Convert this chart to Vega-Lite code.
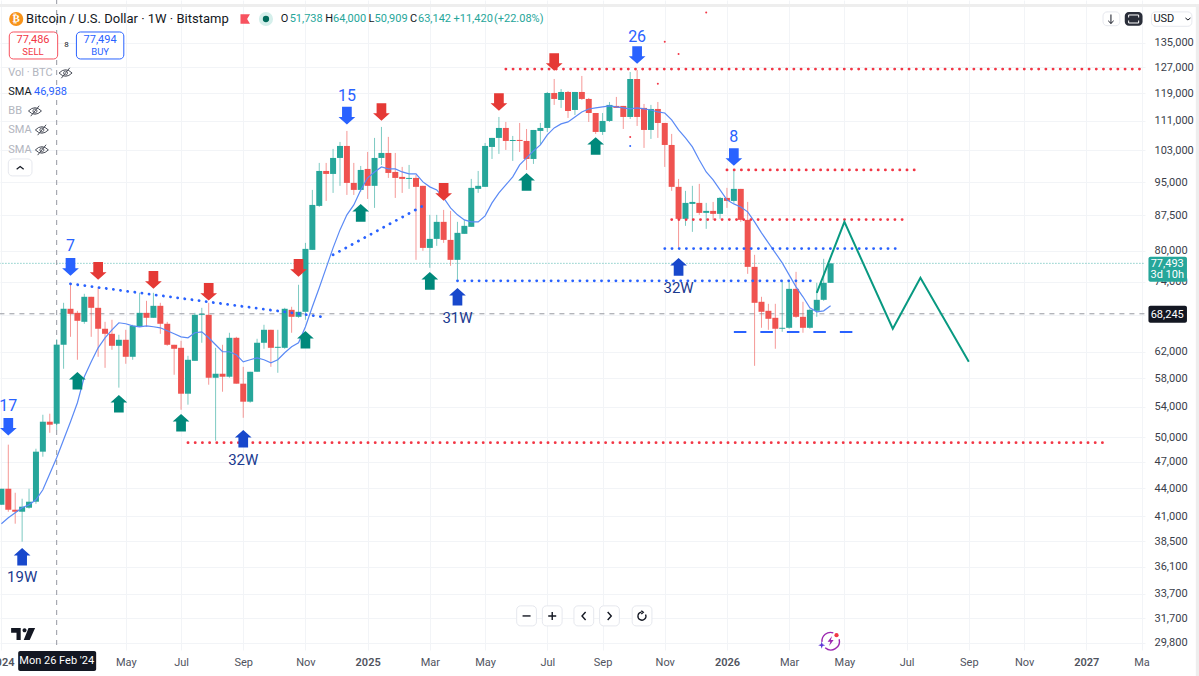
{
  "$schema": "https://vega.github.io/schema/vega-lite/v6.json",
  "width": 1145,
  "height": 650,
  "padding": {"left": 0, "top": 0, "right": 54, "bottom": 26},
  "autosize": "none",
  "background": "#ffffff",
  "config": {"view": {"stroke": null}, "text": {"font": "Roboto"}, "axis": {"labelFont": "Roboto"}},
  "datasets": {
    "candles": [
      {"date":"2024-01-01","open":42190,"high":43920,"low":42190,"close":43920,"sma":40220},
      {"date":"2024-01-08","open":43920,"high":49080,"low":41450,"close":41660,"sma":40830},
      {"date":"2024-01-15","open":41660,"high":43480,"low":40220,"close":41450,"sma":41350},
      {"date":"2024-01-22","open":41450,"high":42830,"low":38440,"close":41980,"sma":41870},
      {"date":"2024-01-29","open":41870,"high":43920,"low":41770,"close":42510,"sma":42190},
      {"date":"2024-02-05","open":42510,"high":48580,"low":42290,"close":48220,"sma":42720},
      {"date":"2024-02-12","open":48220,"high":52920,"low":47610,"close":52000,"sma":43810},
      {"date":"2024-02-19","open":52000,"high":53060,"low":50570,"close":51610,"sma":45620},
      {"date":"2024-02-26","open":51738,"high":64000,"low":50909,"close":63142,"sma":47490},
      {"date":"2024-03-04","open":63120,"high":70160,"low":59420,"close":69110,"sma":49690},
      {"date":"2024-03-11","open":69110,"high":73780,"low":64400,"close":68240,"sma":52000},
      {"date":"2024-03-18","open":68410,"high":68760,"low":60780,"close":67050,"sma":54550},
      {"date":"2024-03-25","open":66880,"high":71770,"low":66550,"close":71230,"sma":58240},
      {"date":"2024-04-01","open":71230,"high":71230,"low":64400,"close":69280,"sma":60470},
      {"date":"2024-04-08","open":69280,"high":72860,"low":61240,"close":65720,"sma":62640},
      {"date":"2024-04-15","open":65720,"high":66880,"low":59560,"close":64890,"sma":64240},
      {"date":"2024-04-22","open":64890,"high":67220,"low":62330,"close":62960,"sma":65550},
      {"date":"2024-04-29","open":62960,"high":64730,"low":56660,"close":63920,"sma":66720},
      {"date":"2024-05-06","open":63920,"high":65550,"low":60170,"close":61240,"sma":66550},
      {"date":"2024-05-13","open":61240,"high":66380,"low":60780,"close":66210,"sma":66210},
      {"date":"2024-05-20","open":66050,"high":71950,"low":66050,"close":68410,"sma":66050},
      {"date":"2024-05-27","open":68410,"high":70510,"low":66050,"close":67560,"sma":66210},
      {"date":"2024-06-03","open":67560,"high":71950,"low":67560,"close":69630,"sma":66050},
      {"date":"2024-06-10","open":69630,"high":70160,"low":64890,"close":66550,"sma":65880},
      {"date":"2024-06-17","open":66550,"high":66880,"low":62960,"close":63120,"sma":65390},
      {"date":"2024-06-24","open":63120,"high":63120,"low":58530,"close":62490,"sma":64890},
      {"date":"2024-07-01","open":62640,"high":63760,"low":53590,"close":55800,"sma":64400},
      {"date":"2024-07-08","open":55800,"high":61390,"low":54280,"close":60780,"sma":64240},
      {"date":"2024-07-15","open":60620,"high":68410,"low":60620,"close":68070,"sma":65060},
      {"date":"2024-07-22","open":68070,"high":69280,"low":63440,"close":68240,"sma":65220},
      {"date":"2024-07-29","open":68070,"high":70160,"low":57080,"close":58090,"sma":64240},
      {"date":"2024-08-05","open":58090,"high":62640,"low":49570,"close":58680,"sma":63120},
      {"date":"2024-08-12","open":58680,"high":63120,"low":56080,"close":58240,"sma":62020},
      {"date":"2024-08-19","open":58240,"high":65060,"low":58090,"close":64240,"sma":62020},
      {"date":"2024-08-26","open":64240,"high":64400,"low":57230,"close":57230,"sma":61550},
      {"date":"2024-09-02","open":57230,"high":59710,"low":52520,"close":54690,"sma":60470},
      {"date":"2024-09-09","open":54690,"high":58970,"low":54550,"close":58970,"sma":60780},
      {"date":"2024-09-16","open":58970,"high":64080,"low":58970,"close":63440,"sma":61080},
      {"date":"2024-09-23","open":63440,"high":66380,"low":62490,"close":65550,"sma":60780},
      {"date":"2024-09-30","open":65550,"high":65550,"low":59710,"close":62640,"sma":60320},
      {"date":"2024-10-07","open":62640,"high":65550,"low":58820,"close":62800,"sma":60780},
      {"date":"2024-10-14","open":62640,"high":69280,"low":62490,"close":69110,"sma":61860},
      {"date":"2024-10-21","open":68930,"high":69460,"low":65060,"close":67730,"sma":62800},
      {"date":"2024-10-28","open":67730,"high":73420,"low":67560,"close":68590,"sma":63440},
      {"date":"2024-11-04","open":68590,"high":81590,"low":67220,"close":80370,"sma":66050},
      {"date":"2024-11-11","open":80170,"high":93240,"low":80170,"close":89780,"sma":69460},
      {"date":"2024-11-18","open":89560,"high":99800,"low":89330,"close":97800,"sma":72860},
      {"date":"2024-11-25","open":97800,"high":99800,"low":90690,"close":97070,"sma":76620},
      {"date":"2024-12-02","open":97070,"high":103380,"low":92540,"close":101060,"sma":80570},
      {"date":"2024-12-09","open":101060,"high":105220,"low":94200,"close":104160,"sma":84310},
      {"date":"2024-12-16","open":104160,"high":108170,"low":92070,"close":94900,"sma":87560},
      {"date":"2024-12-23","open":94900,"high":99800,"low":92070,"close":93240,"sma":89780},
      {"date":"2024-12-30","open":93240,"high":99040,"low":92780,"close":98050,"sma":93240},
      {"date":"2025-01-06","open":98300,"high":102600,"low":91150,"close":94200,"sma":96100},
      {"date":"2025-01-13","open":94200,"high":106290,"low":89110,"close":101060,"sma":97560},
      {"date":"2025-01-20","open":101060,"high":109270,"low":99290,"close":102340,"sma":98800},
      {"date":"2025-01-27","open":102340,"high":106560,"low":96100,"close":97310,"sma":98300},
      {"date":"2025-02-03","open":97560,"high":102340,"low":91380,"close":96100,"sma":98300},
      {"date":"2025-02-10","open":96350,"high":98800,"low":92540,"close":95860,"sma":97560},
      {"date":"2025-02-17","open":95860,"high":99290,"low":93480,"close":96100,"sma":97070},
      {"date":"2025-02-24","open":96100,"high":96830,"low":78180,"close":93960,"sma":97070},
      {"date":"2025-03-03","open":94200,"high":94200,"low":79970,"close":80570,"sma":95140},
      {"date":"2025-03-10","open":80570,"high":87560,"low":76620,"close":82420,"sma":93960},
      {"date":"2025-03-17","open":82420,"high":87560,"low":80980,"close":86030,"sma":93240},
      {"date":"2025-03-24","open":86030,"high":88660,"low":81590,"close":82210,"sma":91380},
      {"date":"2025-03-31","open":82210,"high":88440,"low":77010,"close":78180,"sma":89110},
      {"date":"2025-04-07","open":78180,"high":86030,"low":74340,"close":83680,"sma":87560},
      {"date":"2025-04-14","open":83470,"high":86460,"low":83470,"close":85170,"sma":86460},
      {"date":"2025-04-21","open":84960,"high":95860,"low":84960,"close":93720,"sma":86030},
      {"date":"2025-04-28","open":93480,"high":97800,"low":92540,"close":94200,"sma":86030},
      {"date":"2025-05-05","open":93960,"high":104950,"low":93960,"close":104160,"sma":87340},
      {"date":"2025-05-12","open":103900,"high":106290,"low":100800,"close":106290,"sma":90240},
      {"date":"2025-05-19","open":106290,"high":112050,"low":102090,"close":108990,"sma":92540},
      {"date":"2025-05-26","open":108990,"high":110650,"low":103120,"close":105480,"sma":94430},
      {"date":"2025-06-02","open":105480,"high":106820,"low":100300,"close":105750,"sma":96350},
      {"date":"2025-06-09","open":105750,"high":110370,"low":102600,"close":105480,"sma":99290},
      {"date":"2025-06-16","open":105480,"high":108710,"low":98050,"close":100800,"sma":101060},
      {"date":"2025-06-23","open":100800,"high":108440,"low":99550,"close":108440,"sma":102860},
      {"date":"2025-06-30","open":108170,"high":110370,"low":104420,"close":108990,"sma":104420},
      {"date":"2025-07-07","open":108990,"high":119330,"low":107900,"close":119030,"sma":107090},
      {"date":"2025-07-14","open":119030,"high":123300,"low":115500,"close":117250,"sma":108990},
      {"date":"2025-07-21","open":116950,"high":120230,"low":114630,"close":119330,"sma":110100},
      {"date":"2025-07-28","open":119330,"high":119630,"low":111770,"close":113750,"sma":110650},
      {"date":"2025-08-04","open":114040,"high":119330,"low":112620,"close":119330,"sma":112050},
      {"date":"2025-08-11","open":119330,"high":124240,"low":116950,"close":117250,"sma":113470},
      {"date":"2025-08-18","open":117250,"high":117550,"low":110650,"close":113180,"sma":114330},
      {"date":"2025-08-25","open":113180,"high":113180,"low":107360,"close":107900,"sma":114630},
      {"date":"2025-09-01","open":107900,"high":113180,"low":107090,"close":110930,"sma":114920},
      {"date":"2025-09-08","open":110930,"high":116360,"low":110650,"close":115500,"sma":115210},
      {"date":"2025-09-15","open":115210,"high":117850,"low":114630,"close":114630,"sma":114920},
      {"date":"2025-09-22","open":115210,"high":115210,"low":108710,"close":112050,"sma":114630},
      {"date":"2025-09-29","open":112050,"high":125490,"low":111490,"close":123300,"sma":114330},
      {"date":"2025-10-06","open":123300,"high":126130,"low":109540,"close":112050,"sma":114630},
      {"date":"2025-10-13","open":114630,"high":115780,"low":103640,"close":108440,"sma":114330},
      {"date":"2025-10-20","open":108440,"high":115500,"low":106020,"close":114330,"sma":114040},
      {"date":"2025-10-27","open":114330,"high":116360,"low":106290,"close":110370,"sma":113470},
      {"date":"2025-11-03","open":110370,"high":110370,"low":98800,"close":104420,"sma":113180},
      {"date":"2025-11-10","open":104420,"high":107360,"low":93010,"close":93960,"sma":111210},
      {"date":"2025-11-17","open":93960,"high":95860,"low":80570,"close":86680,"sma":108440},
      {"date":"2025-11-24","open":86680,"high":93010,"low":85170,"close":90240,"sma":106290},
      {"date":"2025-12-01","open":90010,"high":94200,"low":83890,"close":90460,"sma":103900},
      {"date":"2025-12-08","open":90240,"high":94670,"low":87560,"close":88000,"sma":100550},
      {"date":"2025-12-15","open":88000,"high":90240,"low":84530,"close":88440,"sma":97560},
      {"date":"2025-12-22","open":88440,"high":90460,"low":86460,"close":87780,"sma":95620},
      {"date":"2025-12-29","open":87780,"high":91600,"low":86680,"close":91380,"sma":93240},
      {"date":"2026-01-05","open":91380,"high":93720,"low":89110,"close":90690,"sma":90920},
      {"date":"2026-01-12","open":90690,"high":98050,"low":90240,"close":93480,"sma":90010},
      {"date":"2026-01-19","open":93480,"high":93480,"low":86030,"close":86460,"sma":89330},
      {"date":"2026-01-26","open":86460,"high":90460,"low":75470,"close":76810,"sma":88220},
      {"date":"2026-02-02","open":76810,"high":79170,"low":59860,"close":70160,"sma":86030},
      {"date":"2026-02-09","open":70340,"high":71230,"low":65880,"close":68590,"sma":83680},
      {"date":"2026-02-16","open":68760,"high":69980,"low":65550,"close":67390,"sma":81590},
      {"date":"2026-02-23","open":67560,"high":69980,"low":62490,"close":65720,"sma":79570},
      {"date":"2026-03-02","open":65720,"high":74150,"low":65220,"close":65880,"sma":77590},
      {"date":"2026-03-09","open":65880,"high":74150,"low":65720,"close":72670,"sma":75280},
      {"date":"2026-03-16","open":72670,"high":75850,"low":67560,"close":67730,"sma":73040},
      {"date":"2026-03-23","open":67730,"high":70340,"low":65060,"close":65880,"sma":71230},
      {"date":"2026-03-30","open":65880,"high":69110,"low":65720,"close":68930,"sma":69280},
      {"date":"2026-04-06","open":68760,"high":73780,"low":67730,"close":70690,"sma":68590},
      {"date":"2026-04-13","open":70690,"high":78380,"low":70510,"close":73780,"sma":68760},
      {"date":"2026-04-20","open":73780,"high":77400,"low":73780,"close":77493,"sma":69630}
    ],
    "arrows": [
      {"date":"2024-01-08","price":51350,"kind":"count"},
      {"date":"2024-03-11","price":76810,"kind":"count"},
      {"date":"2024-12-16","price":112420,"kind":"count"},
      {"date":"2025-10-06","price":130980,"kind":"count"},
      {"date":"2026-01-12","price":101310,"kind":"count"},
      {"date":"2024-03-18","price":57660,"kind":"buy"},
      {"date":"2024-04-29","price":54410,"kind":"buy"},
      {"date":"2024-07-01","price":51870,"kind":"buy"},
      {"date":"2024-11-04","price":63920,"kind":"buy"},
      {"date":"2024-12-30","price":88000,"kind":"buy"},
      {"date":"2025-03-10","price":74150,"kind":"buy"},
      {"date":"2025-06-16","price":95140,"kind":"buy"},
      {"date":"2025-08-25","price":104160,"kind":"buy"},
      {"date":"2024-04-08","price":76040,"kind":"sell"},
      {"date":"2024-06-03","price":74340,"kind":"sell"},
      {"date":"2024-07-29","price":72130,"kind":"sell"},
      {"date":"2024-10-28","price":76620,"kind":"sell"},
      {"date":"2025-01-20","price":113470,"kind":"sell"},
      {"date":"2025-03-24","price":92780,"kind":"sell"},
      {"date":"2025-05-19","price":116360,"kind":"sell"},
      {"date":"2025-07-14","price":128690,"kind":"sell"},
      {"date":"2024-01-22","price":37010,"kind":"low"},
      {"date":"2024-09-02","price":49820,"kind":"low"},
      {"date":"2025-04-07","price":71230,"kind":"low"},
      {"date":"2025-11-17","price":76810,"kind":"low"}
    ],
    "redDotted": [
      {"id":"ath","date":"2025-05-26","price":126400},
      {"id":"ath","date":"2027-03-04","price":126400},
      {"id":"jan","date":"2026-01-05","price":98050},
      {"id":"jan","date":"2026-07-20","price":98050},
      {"id":"mid","date":"2025-11-10","price":86520},
      {"id":"mid","date":"2026-07-06","price":86520},
      {"id":"aug","date":"2024-07-08","price":49320},
      {"id":"aug","date":"2027-01-25","price":49320}
    ],
    "blueDotted": [
      {"id":"fall","date":"2024-03-11","price":73600},
      {"id":"fall","date":"2024-11-21","price":67730},
      {"id":"rise","date":"2024-12-02","price":79170},
      {"id":"rise","date":"2025-03-03","price":89560},
      {"id":"apr","date":"2025-04-07","price":74150},
      {"id":"apr","date":"2026-04-06","price":74150},
      {"id":"nov","date":"2025-11-03","price":80430},
      {"id":"nov","date":"2026-06-29","price":80430}
    ],
    "blueDashed": [
      {"date":"2026-01-12","price":65180},
      {"date":"2026-05-13","price":65180}
    ],
    "projection": [
      {"date":"2026-04-06","price":71950},
      {"date":"2026-05-04","price":86030},
      {"date":"2026-06-22","price":65720},
      {"date":"2026-07-20","price":74710},
      {"date":"2026-09-07","price":60470}
    ],
    "specks": [
      {"date":"2025-12-15","price":145800,"kind":"red"},
      {"date":"2025-11-03","price":135440,"kind":"red"},
      {"date":"2025-11-17","price":131320,"kind":"red"},
      {"date":"2025-10-27","price":121790,"kind":"red"},
      {"date":"2025-09-29","price":106560,"kind":"red"},
      {"date":"2025-09-29","price":104160,"kind":"blue"}
    ],
    "levels": [
      {"kind":"last","date":"2023-12-30","date2":"2027-03-04","price":77493,"price2":77493},
      {"kind":"prev","date":"2023-12-30","date2":"2027-03-04","price":68245,"price2":68245},
      {"kind":"cross","date":"2024-02-26","date2":"2024-02-26","price":150440,"price2":29259}
    ],
    "panels": [
      {"kind":"edge","date":"2023-12-30","date2":"2027-05-10","price":148920,"price2":147800},
      {"kind":"edge","date":"2023-12-30","date2":"2027-05-10","price":27400,"price2":27100},
      {"kind":"edge","date":"2027-04-25","date2":"2027-05-10","price":148920,"price2":27100},
      {"kind":"dark","date":"2024-01-18","date2":"2024-04-06","price":29180,"price2":27760},
      {"kind":"dark","date":"2027-03-08","date2":"2027-04-16","price":69630,"price2":66720},
      {"kind":"teal","date":"2027-03-08","date2":"2027-04-16","price":78770,"price2":73960},
      {"kind":"button","date":"2027-02-12","date2":"2027-03-02","price":146000,"price2":141000},
      {"kind":"plain","date":"2027-01-21","date2":"2027-02-07","price":146000,"price2":141000},
      {"kind":"plain","date":"2027-03-11","date2":"2027-04-21","price":146000,"price2":140800},
      {"kind":"plain","date":"2024-01-08","date2":"2024-02-01","price":100800,"price2":96590},
      {"kind":"plain","date":"2025-06-06","date2":"2025-06-26","price":32700,"price2":31090},
      {"kind":"plain","date":"2025-07-02","date2":"2025-07-22","price":32700,"price2":31090},
      {"kind":"plain","date":"2025-08-03","date2":"2025-08-23","price":32700,"price2":31090},
      {"kind":"plain","date":"2025-08-29","date2":"2025-09-18","price":32700,"price2":31090},
      {"kind":"plain","date":"2025-10-01","date2":"2025-10-21","price":32700,"price2":31090},
      {"kind":"sellBox","date":"2024-01-09","date2":"2024-02-27","price":138790,"price2":129670},
      {"kind":"buyBox","date":"2024-03-17","date2":"2024-05-04","price":138790,"price2":129670}
    ],
    "glyphs": [
      {"kind":"coin","date":"2024-01-16","price":143410},
      {"kind":"flag","date":"2024-09-04","price":143410},
      {"kind":"haloOuter","date":"2024-09-25","price":143410},
      {"kind":"haloInner","date":"2024-09-25","price":143410},
      {"kind":"eye","date":"2024-03-06","price":125170},
      {"kind":"eye","date":"2024-02-04","price":113750},
      {"kind":"eye","date":"2024-02-11","price":108440},
      {"kind":"eye","date":"2024-02-11","price":103120},
      {"kind":"up","date":"2024-01-20","price":98550},
      {"kind":"down","date":"2027-04-17","price":143410},
      {"kind":"sink","date":"2027-01-29","price":143410},
      {"kind":"frame","date":"2027-02-21","price":143410},
      {"kind":"minus","date":"2025-06-16","price":31880},
      {"kind":"plus","date":"2025-07-12","price":31880},
      {"kind":"left","date":"2025-08-13","price":31880},
      {"kind":"right","date":"2025-09-08","price":31880},
      {"kind":"reset","date":"2025-10-11","price":31880},
      {"kind":"logo","date":"2024-01-23","price":30470},
      {"kind":"ring","date":"2026-04-20","price":29930},
      {"kind":"bolt","date":"2026-04-20","price":29930},
      {"kind":"star","date":"2026-04-11","price":29620},
      {"kind":"notify","date":"2026-04-26","price":30370}
    ],
    "texts": [
      {"group":"count","date":"2024-01-08","price":54140,"label":"17"},
      {"group":"count","date":"2024-03-11","price":80980,"label":"7"},
      {"group":"count","date":"2024-12-16","price":118140,"label":"15"},
      {"group":"count","date":"2025-10-06","price":136980,"label":"26"},
      {"group":"count","date":"2026-01-12","price":106560,"label":"8"},
      {"group":"weeks","date":"2024-01-22","price":35190,"label":"19W"},
      {"group":"weeks","date":"2024-09-02","price":47250,"label":"32W"},
      {"group":"weeks","date":"2025-04-07","price":67560,"label":"31W"},
      {"group":"weeks","date":"2025-11-17","price":72860,"label":"32W"},
      {"group":"title","date":"2024-01-26","price":143410,"label":"Bitcoin / U.S. Dollar · 1W · Bitstamp"},
      {"group":"key","date":"2024-10-10","price":143410,"label":"O"},
      {"group":"key","date":"2024-11-24","price":143410,"label":"H"},
      {"group":"key","date":"2025-01-07","price":143410,"label":"L"},
      {"group":"key","date":"2025-02-18","price":143410,"label":"C"},
      {"group":"value","date":"2024-10-19","price":143410,"label":"51,738"},
      {"group":"value","date":"2024-12-02","price":143410,"label":"64,000"},
      {"group":"value","date":"2025-01-13","price":143410,"label":"50,909"},
      {"group":"value","date":"2025-02-26","price":143410,"label":"63,142"},
      {"group":"value","date":"2025-04-03","price":143410,"label":"+11,420"},
      {"group":"value","date":"2025-05-14","price":143410,"label":"(+22.08%)"},
      {"group":"sell","date":"2024-02-02","price":136020,"label":"77,486"},
      {"group":"sellTag","date":"2024-02-02","price":131970,"label":"SELL"},
      {"group":"buy","date":"2024-04-10","price":136020,"label":"77,494"},
      {"group":"buyTag","date":"2024-04-10","price":131970,"label":"BUY"},
      {"group":"spread","date":"2024-03-07","price":134320,"label":"8"},
      {"group":"faint","date":"2024-01-08","price":125170,"label":"Vol · BTC"},
      {"group":"faint","date":"2024-01-08","price":113750,"label":"BB"},
      {"group":"faint","date":"2024-01-08","price":108440,"label":"SMA"},
      {"group":"faint","date":"2024-01-08","price":103120,"label":"SMA"},
      {"group":"plainDark","date":"2024-01-08","price":119330,"label":"SMA"},
      {"group":"plainDark","date":"2027-03-13","price":143410,"label":"USD"},
      {"group":"smaValue","date":"2024-02-03","price":119330,"label":"46,938"},
      {"group":"badge","date":"2027-03-27","price":77400,"label":"77,493"},
      {"group":"badge","date":"2027-03-27","price":75280,"label":"3d 10h"},
      {"group":"badge","date":"2027-03-27","price":68070,"label":"68,245"},
      {"group":"badge","date":"2024-02-26","price":28460,"label":"Mon 26 Feb '24"},
      {"group":"coin","date":"2024-01-16","price":143410,"label":"₿"}
    ]
  },
  "encoding": {
    "x": {
      "field": "date",
      "type": "temporal",
      "scale": {"type": "utc", "padding": 0, "domain": ["2023-12-30T14:00:00Z", "2027-03-04T12:00:00Z"]},
      "axis": {
        "title": null,
        "values": ["2024-01-01","2024-05-06","2024-07-01","2024-09-02","2024-11-04","2025-01-06","2025-03-10","2025-05-05","2025-07-07","2025-09-01","2025-11-03","2026-01-05","2026-03-09","2026-05-04","2026-07-06","2026-09-07","2026-11-02","2027-01-04","2027-03-01"],
        "labelExpr": "utcmonth(datum.value)==0 ? utcFormat(datum.value,'%Y') : (utcyear(datum.value)==2027 ? 'Ma' : utcFormat(datum.value,'%b'))",
        "labelFontWeight": {"condition": {"test": "utcmonth(datum.value)==0", "value": 600}, "value": 400},
        "labelFontSize": 11,
        "labelColor": "#50535e",
        "labelPadding": 6,
        "labelOverlap": false,
        "labelBound": false,
        "ticks": false,
        "domain": false,
        "grid": true,
        "gridColor": "#f2f4f7"
      }
    },
    "y": {
      "field": "price",
      "type": "quantitative",
      "scale": {"type": "log", "domain": [29259, 150440]},
      "axis": {
        "title": null,
        "orient": "right",
        "values": [135000,127000,119000,111000,103000,95000,87500,80000,74000,68000,62000,58000,54000,50000,47000,44000,41000,38500,36100,33700,31700,29800],
        "labelExpr": "datum.value==68000 ? '' : format(datum.value,',')",
        "labelFontSize": 11,
        "labelColor": "#3a3e4a",
        "labelPadding": 9,
        "labelAlign": "left",
        "labelOverlap": false,
        "labelBound": false,
        "ticks": false,
        "domain": false,
        "grid": true,
        "gridColor": "#f2f4f7"
      }
    }
  },
  "layer": [
    {
      "data": {"name": "levels"},
      "transform": [{"filter": "datum.kind=='last'"}],
      "mark": {"type": "rule", "color": "#26a69a", "strokeWidth": 1, "strokeDash": [1, 2], "opacity": 0.8},
      "encoding": {"x2": {"field": "date2"}}
    },
    {
      "data": {"name": "levels"},
      "transform": [{"filter": "datum.kind!='last'"}],
      "mark": {"type": "rule", "color": "#9598a1", "strokeWidth": 1, "strokeDash": [5, 5]},
      "encoding": {"x2": {"field": "date2"}, "y2": {"field": "price2"}}
    },
    {
      "data": {"name": "candles"},
      "mark": {"type": "rule", "strokeWidth": 1, "opacity": 0.6},
      "encoding": {
        "y": {"field": "high", "type": "quantitative", "scale": {"type": "log", "domain": [29259, 150440]}},
        "y2": {"field": "low"},
        "color": {"condition": {"test": "datum.close>=datum.open", "value": "#26a69a"}, "value": "#ef5350"}
      }
    },
    {
      "data": {"name": "candles"},
      "mark": {"type": "bar", "size": 6, "orient": "vertical"},
      "encoding": {
        "y": {"field": "open", "type": "quantitative", "scale": {"type": "log", "domain": [29259, 150440]}},
        "y2": {"field": "close"},
        "color": {"condition": {"test": "datum.close>=datum.open", "value": "#26a69a"}, "value": "#ef5350"}
      }
    },
    {
      "data": {"name": "candles"},
      "mark": {"type": "line", "color": "#5b8af5", "strokeWidth": 1.2},
      "encoding": {
        "y": {"field": "sma", "type": "quantitative", "scale": {"type": "log", "domain": [29259, 150440]}}
      }
    },
    {
      "data": {"name": "redDotted"},
      "mark": {"type": "line", "color": "#f23645", "strokeWidth": 2.8, "strokeCap": "round", "strokeDash": [0.1, 7.1]},
      "encoding": {"detail": {"field": "id"}}
    },
    {
      "data": {"name": "blueDotted"},
      "mark": {"type": "line", "color": "#2962ff", "strokeWidth": 2.8, "strokeCap": "round", "strokeDash": [0.1, 7.1]},
      "encoding": {"detail": {"field": "id"}}
    },
    {
      "data": {"name": "blueDashed"},
      "mark": {"type": "line", "color": "#2962ff", "strokeWidth": 2, "strokeDash": [12.5, 14]}
    },
    {
      "data": {"name": "projection"},
      "mark": {"type": "line", "color": "#089981", "strokeWidth": 2}
    },
    {
      "data": {"name": "specks"},
      "transform": [{"filter": "datum.kind=='red'"}],
      "mark": {"type": "point", "shape": "circle", "filled": true, "size": 4, "color": "#f23645", "opacity": 1}
    },
    {
      "data": {"name": "specks"},
      "transform": [{"filter": "datum.kind=='blue'"}],
      "mark": {"type": "point", "shape": "circle", "filled": true, "size": 4, "color": "#2962ff", "opacity": 1}
    },
    {
      "data": {"name": "arrows"},
      "mark": {"type": "point", "filled": true, "size": 310, "opacity": 1},
      "encoding": {
        "color": {"field": "kind", "type": "nominal", "legend": null, "scale": {"domain": ["count", "sell", "buy", "low"], "range": ["#2962ff", "#e53935", "#00897b", "#1848cc"]}},
        "shape": {"field": "kind", "type": "nominal", "legend": null, "scale": {"domain": ["count", "sell", "buy", "low"], "range": [
          "M-0.55,-1L0.55,-1L0.55,0.15L0.95,0.15L0,1L-0.95,0.15L-0.55,0.15Z",
          "M-0.55,-1L0.55,-1L0.55,0.15L0.95,0.15L0,1L-0.95,0.15L-0.55,0.15Z",
          "M-0.55,1L0.55,1L0.55,-0.15L0.95,-0.15L0,-1L-0.95,-0.15L-0.55,-0.15Z",
          "M-0.55,1L0.55,1L0.55,-0.15L0.95,-0.15L0,-1L-0.95,-0.15L-0.55,-0.15Z"
        ]}}
      }
    },
    {
      "data": {"name": "panels"},
      "transform": [{"filter": "datum.kind=='edge'"}],
      "mark": {"type": "rect", "color": "#eeeeee"},
      "encoding": {"x2": {"field": "date2"}, "y2": {"field": "price2"}}
    },
    {
      "data": {"name": "panels"},
      "transform": [{"filter": "datum.kind=='dark'"}],
      "mark": {"type": "rect", "color": "#131722", "cornerRadius": 2},
      "encoding": {"x2": {"field": "date2"}, "y2": {"field": "price2"}}
    },
    {
      "data": {"name": "panels"},
      "transform": [{"filter": "datum.kind=='teal'"}],
      "mark": {"type": "rect", "color": "#26a69a", "cornerRadius": 2},
      "encoding": {"x2": {"field": "date2"}, "y2": {"field": "price2"}}
    },
    {
      "data": {"name": "panels"},
      "transform": [{"filter": "datum.kind=='button'"}],
      "mark": {"type": "rect", "color": "#2a2e39", "cornerRadius": 4},
      "encoding": {"x2": {"field": "date2"}, "y2": {"field": "price2"}}
    },
    {
      "data": {"name": "panels"},
      "transform": [{"filter": "datum.kind=='plain'"}],
      "mark": {"type": "rect", "fill": "#ffffff", "stroke": "#e6e8ee", "strokeWidth": 1, "cornerRadius": 4},
      "encoding": {"x2": {"field": "date2"}, "y2": {"field": "price2"}}
    },
    {
      "data": {"name": "panels"},
      "transform": [{"filter": "datum.kind=='sellBox'"}],
      "mark": {"type": "rect", "fill": "#ffffff", "stroke": "#f7525f", "strokeWidth": 1, "cornerRadius": 4},
      "encoding": {"x2": {"field": "date2"}, "y2": {"field": "price2"}}
    },
    {
      "data": {"name": "panels"},
      "transform": [{"filter": "datum.kind=='buyBox'"}],
      "mark": {"type": "rect", "fill": "#ffffff", "stroke": "#2962ff", "strokeWidth": 1, "cornerRadius": 4},
      "encoding": {"x2": {"field": "date2"}, "y2": {"field": "price2"}}
    },
    {
      "data": {"name": "glyphs"},
      "transform": [{"filter": "datum.kind=='coin'"}],
      "mark": {"type": "point", "shape": "circle", "filled": true, "size": 200, "color": "#f7931a", "opacity": 1}
    },
    {
      "data": {"name": "glyphs"},
      "transform": [{"filter": "datum.kind=='flag'"}],
      "mark": {"type": "point", "filled": true, "size": 90, "color": "#f7525f", "opacity": 1, "shape": "M-1,-1L1,-1L0.4,0L1,1L-1,1Z"}
    },
    {
      "data": {"name": "glyphs"},
      "transform": [{"filter": "datum.kind=='haloOuter'"}],
      "mark": {"type": "point", "shape": "circle", "filled": true, "size": 200, "color": "#d5efeb", "opacity": 1}
    },
    {
      "data": {"name": "glyphs"},
      "transform": [{"filter": "datum.kind=='haloInner'"}],
      "mark": {"type": "point", "shape": "circle", "filled": true, "size": 40, "color": "#006b5b", "opacity": 1}
    },
    {
      "data": {"name": "glyphs"},
      "transform": [{"filter": "datum.kind=='eye'"}],
      "mark": {"type": "point", "filled": false, "size": 169, "stroke": "#4a4e59", "strokeWidth": 1, "opacity": 1, "shape": "M-1,0Q0,-1 1,0Q0,1 -1,0ZM-0.3,0A0.3,0.3 0 1 0 0.3,0A0.3,0.3 0 1 0 -0.3,0ZM-0.65,0.8L0.65,-0.8"}
    },
    {
      "data": {"name": "glyphs"},
      "transform": [{"filter": "datum.kind=='up'"}],
      "mark": {"type": "point", "filled": false, "size": 49, "stroke": "#131722", "strokeWidth": 1.2, "opacity": 1, "shape": "M-1,0.4L0,-0.4L1,0.4"}
    },
    {
      "data": {"name": "glyphs"},
      "transform": [{"filter": "datum.kind=='down'"}],
      "mark": {"type": "point", "filled": false, "size": 25, "stroke": "#131722", "strokeWidth": 1, "opacity": 1, "shape": "M-1,-0.4L0,0.4L1,-0.4"}
    },
    {
      "data": {"name": "glyphs"},
      "transform": [{"filter": "datum.kind=='sink'"}],
      "mark": {"type": "point", "filled": false, "size": 81, "stroke": "#131722", "strokeWidth": 1, "opacity": 1, "shape": "M0,-1L0,1M-0.6,0.4L0,1L0.6,0.4"}
    },
    {
      "data": {"name": "glyphs"},
      "transform": [{"filter": "datum.kind=='frame'"}],
      "mark": {"type": "point", "filled": false, "size": 100, "stroke": "#ffffff", "strokeWidth": 1, "opacity": 1, "shape": "M-1,-0.3L-1,-0.8L1,-0.8L1,-0.3M-1,0.3L-1,0.8L1,0.8L1,0.3"}
    },
    {
      "data": {"name": "glyphs"},
      "transform": [{"filter": "datum.kind=='minus'"}],
      "mark": {"type": "point", "filled": false, "size": 64, "stroke": "#131722", "strokeWidth": 1.4, "opacity": 1, "shape": "M-1,0L1,0"}
    },
    {
      "data": {"name": "glyphs"},
      "transform": [{"filter": "datum.kind=='plus'"}],
      "mark": {"type": "point", "filled": false, "size": 64, "stroke": "#131722", "strokeWidth": 1.4, "opacity": 1, "shape": "M-1,0L1,0M0,-1L0,1"}
    },
    {
      "data": {"name": "glyphs"},
      "transform": [{"filter": "datum.kind=='left'"}],
      "mark": {"type": "point", "filled": false, "size": 64, "stroke": "#131722", "strokeWidth": 1.4, "opacity": 1, "shape": "M0.45,-1L-0.45,0L0.45,1"}
    },
    {
      "data": {"name": "glyphs"},
      "transform": [{"filter": "datum.kind=='right'"}],
      "mark": {"type": "point", "filled": false, "size": 64, "stroke": "#131722", "strokeWidth": 1.4, "opacity": 1, "shape": "M-0.45,-1L0.45,0L-0.45,1"}
    },
    {
      "data": {"name": "glyphs"},
      "transform": [{"filter": "datum.kind=='reset'"}],
      "mark": {"type": "point", "filled": false, "size": 100, "stroke": "#131722", "strokeWidth": 1.3, "opacity": 1, "shape": "M-0.15,-0.75A0.8,0.8 0 1 0 0.7,-0.3M-0.15,-1.05L0.25,-0.75L-0.15,-0.4"}
    },
    {
      "data": {"name": "glyphs"},
      "transform": [{"filter": "datum.kind=='logo'"}],
      "mark": {"type": "point", "filled": true, "size": 576, "color": "#131722", "opacity": 1, "shape": "M-1,-0.5L-0.2,-0.5L-0.2,0.5L-0.55,0.5L-0.55,-0.1L-1,-0.1ZM-0.05,-0.3A0.17,0.17 0 1 0 0.29,-0.3A0.17,0.17 0 1 0 -0.05,-0.3ZM0.45,-0.5L1,-0.5L0.55,0.5L0.05,0.5Z"}
    },
    {
      "data": {"name": "glyphs"},
      "transform": [{"filter": "datum.kind=='ring'"}],
      "mark": {"type": "point", "filled": false, "size": 324, "stroke": "#9c27b0", "strokeWidth": 1.4, "opacity": 1, "shape": "M-0.95,0.1A0.95,0.95 0 0 1 0.3,-0.9M0.95,-0.2A0.95,0.95 0 0 1 -0.6,0.75"}
    },
    {
      "data": {"name": "glyphs"},
      "transform": [{"filter": "datum.kind=='bolt'"}],
      "mark": {"type": "point", "filled": true, "size": 100, "color": "#9c27b0", "opacity": 1, "shape": "M0.3,-1L-0.6,0.15L-0.05,0.15L-0.3,1L0.6,-0.2L0.05,-0.2Z"}
    },
    {
      "data": {"name": "glyphs"},
      "transform": [{"filter": "datum.kind=='star'"}],
      "mark": {"type": "point", "filled": true, "size": 50, "color": "#5e35d6", "opacity": 1, "shape": "M0,-1L0.25,-0.25L1,0L0.25,0.25L0,1L-0.25,0.25L-1,0L-0.25,-0.25Z"}
    },
    {
      "data": {"name": "glyphs"},
      "transform": [{"filter": "datum.kind=='notify'"}],
      "mark": {"type": "point", "shape": "circle", "filled": true, "size": 18, "color": "#f23645", "opacity": 1}
    },
    {
      "data": {"name": "texts"},
      "transform": [{"filter": "datum.group=='count'"}],
      "mark": {"type": "text", "fontSize": 16, "color": "#2962ff", "baseline": "middle"},
      "encoding": {"text": {"field": "label"}}
    },
    {
      "data": {"name": "texts"},
      "transform": [{"filter": "datum.group=='weeks'"}],
      "mark": {"type": "text", "fontSize": 15, "color": "#1a3a8f", "baseline": "middle"},
      "encoding": {"text": {"field": "label"}}
    },
    {
      "data": {"name": "texts"},
      "transform": [{"filter": "datum.group=='title'"}],
      "mark": {"type": "text", "fontSize": 13, "color": "#131722", "align": "left", "baseline": "middle"},
      "encoding": {"text": {"field": "label"}}
    },
    {
      "data": {"name": "texts"},
      "transform": [{"filter": "datum.group=='key'"}],
      "mark": {"type": "text", "fontSize": 11, "color": "#131722", "align": "left", "baseline": "middle"},
      "encoding": {"text": {"field": "label"}}
    },
    {
      "data": {"name": "texts"},
      "transform": [{"filter": "datum.group=='value'"}],
      "mark": {"type": "text", "fontSize": 11, "color": "#26a69a", "align": "left", "baseline": "middle"},
      "encoding": {"text": {"field": "label"}}
    },
    {
      "data": {"name": "texts"},
      "transform": [{"filter": "datum.group=='sell'"}],
      "mark": {"type": "text", "fontSize": 11, "color": "#f23645", "baseline": "middle"},
      "encoding": {"text": {"field": "label"}}
    },
    {
      "data": {"name": "texts"},
      "transform": [{"filter": "datum.group=='sellTag'"}],
      "mark": {"type": "text", "fontSize": 9.5, "color": "#f23645", "baseline": "middle"},
      "encoding": {"text": {"field": "label"}}
    },
    {
      "data": {"name": "texts"},
      "transform": [{"filter": "datum.group=='buy'"}],
      "mark": {"type": "text", "fontSize": 11, "color": "#2962ff", "baseline": "middle"},
      "encoding": {"text": {"field": "label"}}
    },
    {
      "data": {"name": "texts"},
      "transform": [{"filter": "datum.group=='buyTag'"}],
      "mark": {"type": "text", "fontSize": 9.5, "color": "#2962ff", "baseline": "middle"},
      "encoding": {"text": {"field": "label"}}
    },
    {
      "data": {"name": "texts"},
      "transform": [{"filter": "datum.group=='spread'"}],
      "mark": {"type": "text", "fontSize": 8, "color": "#131722", "baseline": "middle"},
      "encoding": {"text": {"field": "label"}}
    },
    {
      "data": {"name": "texts"},
      "transform": [{"filter": "datum.group=='faint'"}],
      "mark": {"type": "text", "fontSize": 11, "color": "#b2b5be", "align": "left", "baseline": "middle"},
      "encoding": {"text": {"field": "label"}}
    },
    {
      "data": {"name": "texts"},
      "transform": [{"filter": "datum.group=='plainDark'"}],
      "mark": {"type": "text", "fontSize": 11, "color": "#131722", "align": "left", "baseline": "middle"},
      "encoding": {"text": {"field": "label"}}
    },
    {
      "data": {"name": "texts"},
      "transform": [{"filter": "datum.group=='smaValue'"}],
      "mark": {"type": "text", "fontSize": 11, "color": "#2962ff", "align": "left", "baseline": "middle"},
      "encoding": {"text": {"field": "label"}}
    },
    {
      "data": {"name": "texts"},
      "transform": [{"filter": "datum.group=='badge'"}],
      "mark": {"type": "text", "fontSize": 11, "color": "#ffffff", "baseline": "middle"},
      "encoding": {"text": {"field": "label"}}
    },
    {
      "data": {"name": "texts"},
      "transform": [{"filter": "datum.group=='coin'"}],
      "mark": {"type": "text", "fontSize": 11, "font": "DejaVu Sans", "fontWeight": "bold", "color": "#ffffff", "baseline": "middle"},
      "encoding": {"text": {"field": "label"}}
    }
  ]
}
